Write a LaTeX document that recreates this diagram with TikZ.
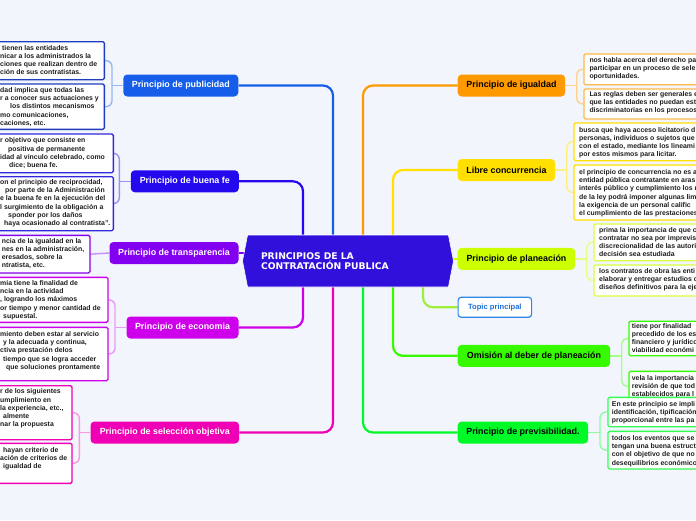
\documentclass[tikz,border=0pt]{standalone}
\usepackage{fontspec}
\setmainfont{Liberation Sans}
\newfontfamily\centerfont{DejaVu Sans}
\usetikzlibrary{shapes.symbols}
\pgfdeclarelayer{bg}
\pgfsetlayers{bg,main}
\definecolor{bgc}{RGB}{243,245,252}
\definecolor{cmain}{RGB}{50,16,220}
\definecolor{cpub}{RGB}{22,94,234}
\definecolor{cpubl}{RGB}{30,60,190}
\definecolor{cbf}{RGB}{36,8,238}
\definecolor{cbfl}{RGB}{50,40,220}
\definecolor{ctr}{RGB}{132,0,240}
\definecolor{cec}{RGB}{206,0,236}
\definecolor{cso}{RGB}{240,0,180}
\definecolor{cig}{RGB}{255,153,0}
\definecolor{cco}{RGB}{255,224,0}
\definecolor{cpl}{RGB}{204,255,0}
\definecolor{ctp}{RGB}{47,135,232}
\definecolor{ctpt}{RGB}{30,111,217}
\definecolor{cli}{RGB}{160,238,60}
\definecolor{com}{RGB}{55,250,0}
\definecolor{cpr}{RGB}{0,250,40}
\definecolor{ltext}{RGB}{30,30,30}
\newcommand{\leaflines}[1]{\begin{tabular}{@{}l@{}}#1\end{tabular}}
\tikzset{
  branch/.style={rounded corners=4pt, fill=#1, minimum height=22pt, inner xsep=0pt,
    font=\fontsize{8.9}{10}\selectfont\bfseries},
  leafbox/.style={draw=#1, fill=white, line width=1.3pt, rounded corners=1.5pt, inner sep=0pt},
  leaftext/.style={anchor=north west, inner sep=0pt,
    font=\fontsize{6.9}{8.2}\selectfont\bfseries, text=ltext},
  trunk/.style={draw=#1, line width=2.2pt, rounded corners=10pt},
  twig/.style={draw=#1, line width=1.4pt, rounded corners=6pt},
}
\begin{document}
\begin{tikzpicture}[x=1pt,y=-1pt]
\useasboundingbox (0,0) rectangle (696,520);
\clip (0,0) rectangle (696,520);
\begin{pgfonlayer}{bg}
\fill[bgc] (0,0) rectangle (696,520);
\end{pgfonlayer}

% central node
\node[signal, signal to=east and west, signal pointer angle=158, fill=cmain, draw=white,
  line width=0.6pt, minimum width=211pt, minimum height=52pt, inner sep=0pt,
  text width=174pt, align=left, text=white,
  font=\centerfont\fontsize{9.2}{10.7}\selectfont\bfseries] (main) at (348,261)
  {PRINCIPIOS DE LA\\CONTRATACIÓN PUBLICA};

% left branches
\node[branch=cpub, text=white, minimum width=115pt, anchor=east] (pub) at (238.5,85.5) {Principio de publicidad};
\node[branch=cbf, text=white, minimum width=108pt, anchor=east] (bf) at (239,181.3) {Principio de buena fe};
\node[branch=ctr, text=white, minimum width=129pt, anchor=east] (tra) at (238.7,253) {Principio de transparencia};
\node[branch=cec, text=white, minimum width=112pt, anchor=east] (eco) at (238.7,327.5) {Principio de economia};
\node[branch=cso, text=white, minimum width=148.6pt, anchor=east] (sel) at (239.3,432.5) {Principio de selección objetiva};

% right branches
\node[branch=cig, text=black, minimum width=107.5pt, anchor=west] (igu) at (457.5,85.5) {Principio de igualdad};
\node[branch=cco, text=black, minimum width=97.5pt, anchor=west] (con) at (457.5,170) {Libre concurrencia};
\node[branch=cpl, text=black, minimum width=117.5pt, anchor=west] (pla) at (457.5,258.8) {Principio de planeación};
\node[rounded corners=3pt, draw=ctp, fill=white, line width=1.2pt, minimum width=73.5pt, minimum height=20pt,
  inner xsep=0pt, text=ctpt, font=\fontsize{7.6}{9}\selectfont\bfseries, anchor=west] (top) at (457.5,307.3) {Topic principal};
\node[branch=com, text=black, minimum width=152.5pt, anchor=west] (omi) at (457.5,355.8) {Omisión al deber de planeación};
\node[branch=cpr, text=black, minimum width=130.5pt, anchor=west] (pre) at (457.5,432.5) {Principio de previsibilidad.};

% ---------- left leaves ----------
\node[leafbox=cpubl, minimum width=125pt, minimum height=38pt, anchor=north east] (pub1) at (105,41) {};
\node[leaftext] (pub1t) at (0,44.3) {\leaflines{\hspace*{2pt}tienen las entidades\\nicar a los administrados la\\ciones que realizan dentro de\\ción de sus contratistas.}};
\node[leafbox=cpubl, minimum width=125pt, minimum height=45.4pt, anchor=north east] (pub2) at (105,83.3) {};
\node[leaftext] (pub2t) at (0,86.6) {\leaflines{dad implica que todas las\\r a conocer sus actuaciones y\\\hspace*{10pt}los distintos mecanismos\\mo comunicaciones,\\caciones, etc.}};

\node[leafbox=cbfl, minimum width=134pt, minimum height=38.7pt, anchor=north east] (bf1) at (114,133.3) {};
\node[leaftext] (bf1t) at (0,137) {\leaflines{r objetivo que consiste en\\\hspace*{8pt}positiva de permanente\\idad al vinculo celebrado, como\\\hspace*{9pt}dice; buena fe.}};
\node[leafbox=cbfl, minimum width=134pt, minimum height=54pt, anchor=north east] (bf2) at (114,176) {};
\node[leaftext] (bf2t) at (0,178.6) {\leaflines{on el principio de reciprocidad,\\\hspace*{5pt}por parte de la Administración\\e la buena fe en la ejecución del\\l surgimiento de la obligación a\\\hspace*{8pt}sponder por los daños\\\hspace*{4pt}haya ocasionado al contratista”.}};

\node[leafbox=ctr, minimum width=110pt, minimum height=37.6pt, anchor=north east] (tr1) at (90.7,234.7) {};
\node[leaftext] (tr1t) at (1.7,237.3) {\leaflines{ncia de la igualdad en la\\nes en la administración,\\eresados, sobre la\\ntratista, etc.}};

\node[leafbox=cec, minimum width=129pt, minimum height=45pt, anchor=north east] (ec1) at (108.7,276.7) {};
\node[leaftext] (ec1t) at (0,279.6) {\leaflines{mia tiene la finalidad de\\ncia en la actividad\\, logrando los máximos\\or tiempo y menor cantidad de\\\hspace*{3pt}supuestal.}};
\node[leafbox=cec, minimum width=129pt, minimum height=53.3pt, anchor=north east] (ec2) at (108.7,326.7) {};
\node[leaftext] (ec2t) at (0,330.6) {\leaflines{miento deben estar al servicio\\\hspace*{3pt}y la adecuada y continua,\\ctiva prestación delos\\\hspace*{3pt}tiempo que se logra acceder\\\hspace*{6pt}que soluciones prontamente}};

\node[leafbox=cso, minimum width=93pt, minimum height=54pt, anchor=north east] (so1) at (72.7,385) {};
\node[leaftext] (so1t) at (0,388) {\leaflines{r de los siguientes\\umplimiento en\\la experiencia, etc.,\\\hspace*{3pt}almente\\nar la propuesta}};
\node[leafbox=cso, minimum width=93pt, minimum height=40pt, anchor=north east] (so2) at (72.7,442.7) {};
\node[leaftext] (so2t) at (0,446.3) {\leaflines{\hspace*{3pt}hayan criterio de\\ación de criterios de\\\hspace*{3pt}igualdad de}};

% ---------- right leaves ----------
\node[leafbox=cig!70!white, minimum width=140pt, minimum height=30.7pt, anchor=north west] (ig1) at (583.3,53.3) {};
\node[leaftext] (ig1t) at (589.3,56.3) {\leaflines{nos habla acerca del derecho pa\\participar en un proceso de sele\\oportunidades.}};
\node[leafbox=cig!70!white, minimum width=140pt, minimum height=30pt, anchor=north west] (ig2) at (583.3,88.3) {};
\node[leaftext] (ig2t) at (589.3,90.6) {\leaflines{Las reglas deben ser generales e\\que las entidades no puedan est\\discriminatorias en los procesos}};

\node[leafbox=cco, minimum width=150pt, minimum height=37.7pt, anchor=north west] (co1) at (573.3,122.3) {};
\node[leaftext] (co1t) at (579,126.3) {\leaflines{busca que haya acceso licitatorio d\\personas, individuos o sujetos que\\con el estado, mediante los lineami\\por estos mismos para licitar.}};
\node[leafbox=cco, minimum width=150pt, minimum height=55pt, anchor=north west] (co2) at (573.3,164.3) {};
\node[leaftext] (co2t) at (579,168.6) {\leaflines{el principio de concurrencia no es a\\entidad pública contratante en aras\\interés público y cumplimiento los r\\de la ley podrá imponer algunas lim\\la exigencia de un personal calific\\el cumplimiento de las prestaciones}};

\node[leafbox=cpl!75!white, minimum width=130pt, minimum height=36.7pt, anchor=north west] (pl1) at (593.3,223.3) {};
\node[leaftext] (pl1t) at (599,226.3) {\leaflines{prima la importancia de que c\\contratar no sea por imprevis\\discrecionalidad de las autori\\decisión sea estudiada}};
\node[leafbox=cpl!75!white, minimum width=130pt, minimum height=31pt, anchor=north west] (pl2) at (593.3,264.3) {};
\node[leaftext] (pl2t) at (599,267.3) {\leaflines{los contratos de obra las enti\\elaborar y entregar estudios d\\diseños definitivos para la eje}};

\node[leafbox=com, minimum width=100pt, minimum height=34.5pt, anchor=north west] (om1) at (628.3,320.5) {};
\node[leaftext] (om1t) at (631.7,322.3) {\leaflines{tiene por finalidad\\precedido de los es\\financiero y jurídico\\viabilidad económi}};
\node[leafbox=com, minimum width=100pt, minimum height=30pt, anchor=north west] (om2) at (628.3,370.7) {};
\node[leaftext] (om2t) at (631.7,374.6) {\leaflines{vela la importancia\\revisión de que tod\\establecidos para l}};

\node[leafbox=cpr!80!white, minimum width=120pt, minimum height=29.3pt, anchor=north west] (pr1) at (607.3,396.7) {};
\node[leaftext] (pr1t) at (611.7,400.3) {\leaflines{En este principio se impli\\identificación, tipificación\\proporcional entre las pa}};
\node[leafbox=cpr!80!white, minimum width=120pt, minimum height=37.6pt, anchor=north west] (pr2) at (607.3,430.7) {};
\node[leaftext] (pr2t) at (611.7,434.6) {\leaflines{todos los eventos que se\\tengan una buena estruct\\con el objetivo de que no\\desequilibrios económico}};

% exit points of the trunks
\coordinate (xbf) at (303,255);
\coordinate (xpub) at (333,255);
\coordinate (xig) at (363,255);
\coordinate (xco) at (393,255);
\coordinate (xec) at (303,265);
\coordinate (xso) at (333,265);
\coordinate (xpr) at (363,265);
\coordinate (xom) at (393,265);
\coordinate (xtp) at (423,265);
% bracket columns
\coordinate (bpub) at (112,0);
\coordinate (bbf) at (119.3,0);
\coordinate (bec) at (115,0);
\coordinate (bso) at (79.3,0);
\coordinate (big) at (576.7,0);
\coordinate (bco) at (566.7,0);
\coordinate (bpl) at (586.7,0);
\coordinate (bom) at (621.7,0);
\coordinate (bpr) at (600,0);

\begin{pgfonlayer}{bg}
% trunks
\draw[trunk=cpub] (xpub) |- (pub.east);
\draw[trunk=cbf] (xbf) |- (bf.east);
\draw[trunk=ctr] (tra.east) -- (tra.east -| main.center);
\draw[trunk=cec] (xec) |- (eco.east);
\draw[trunk=cso] (xso) |- (sel.east);
\draw[trunk=cig] (xig) |- (igu.west);
\draw[trunk=cco] (xco) |- (con.west);
\draw[trunk=cpl] (pla.west) -- (pla.west -| main.center);
\draw[trunk=cli] (xtp) |- (top.west);
\draw[trunk=com] (xom) |- (omi.west);
\draw[trunk=cpr] (xpr) |- (pre.west);
% twigs left
\draw[twig=cpub!45!white] (pub1.east) -- (pub1.east -| bpub) -- (pub2.east -| bpub) -- (pub2.east);
\draw[twig=cpub!45!white] (pub.west) -- (pub.west -| bpub);
\draw[twig=cbf!45!white] (bf1.east) -- (bf1.east -| bbf) -- (bf2.east -| bbf) -- (bf2.east);
\draw[twig=cbf!45!white] (bf.west) -- (bf.west -| bbf);
\draw[twig=ctr!45!white] (tra.west) -- (tr1.east);
\draw[twig=cec!40!white] (ec1.east) -- (ec1.east -| bec) -- (ec2.east -| bec) -- (ec2.east);
\draw[twig=cec!40!white] (eco.west) -- (eco.west -| bec);
\draw[twig=cso!40!white] (so1.east) -- (so1.east -| bso) -- (so2.east -| bso) -- (so2.east);
\draw[twig=cso!40!white] (sel.west) -- (sel.west -| bso);
% twigs right
\draw[twig=cig!45!white] (ig1.west) -- (ig1.west -| big) -- (ig2.west -| big) -- (ig2.west);
\draw[twig=cig!45!white] (igu.east) -- (igu.east -| big);
\draw[twig=cco!50!white] (co1.west) -- (co1.west -| bco) -- (co2.west -| bco) -- (co2.west);
\draw[twig=cco!50!white] (con.east) -- (con.east -| bco);
\draw[twig=cpl!50!white] (pl1.west) -- (pl1.west -| bpl) -- (pl2.west -| bpl) -- (pl2.west);
\draw[twig=cpl!50!white] (pla.east) -- (pla.east -| bpl);
\draw[twig=com!45!white] (om1.west) -- (om1.west -| bom) -- (om2.west -| bom) -- (om2.west);
\draw[twig=com!45!white] (omi.east) -- (omi.east -| bom);
\draw[twig=cpr!45!white] (pr1.west) -- (pr1.west -| bpr) -- (pr2.west -| bpr) -- (pr2.west);
\draw[twig=cpr!45!white] (pre.east) -- (pre.east -| bpr);
\end{pgfonlayer}
\end{tikzpicture}
\end{document}
